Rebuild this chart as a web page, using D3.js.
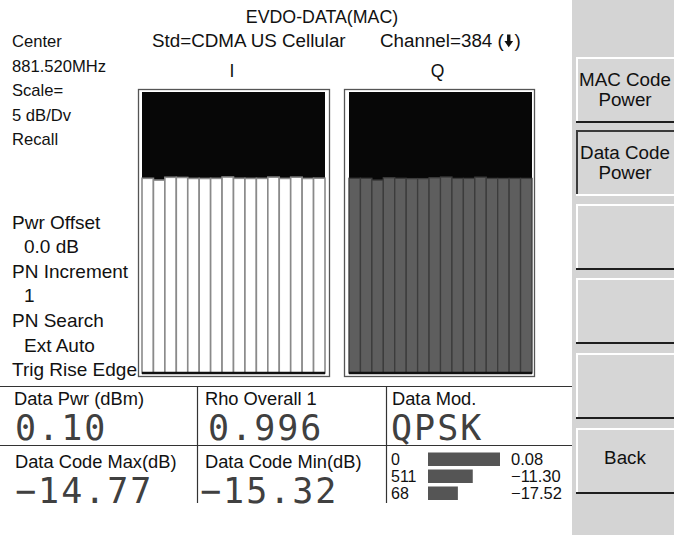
<!DOCTYPE html>
<html><head><meta charset="utf-8">
<script src="https://cdn.jsdelivr.net/npm/d3@7"></script>
<style>html,body{margin:0;padding:0;background:#fff;} svg{display:block;}</style>
</head><body>
<script>
// Walsh code powers (dB) for the 16 data codes on each branch
const codeIndex = d3.range(16);
const iPower = [-15.00,-15.32,-14.82,-14.85,-15.02,-15.03,-15.01,-14.77,-15.00,-15.02,-15.01,-14.79,-15.02,-14.80,-15.03,-14.98];
const qPower = [-15.00,-15.00,-15.32,-14.90,-15.00,-15.05,-15.05,-14.90,-14.77,-15.02,-15.02,-14.80,-15.02,-15.03,-15.02,-15.02];
const dbPerDiv = 5;
const divisions = 10;

// Instrument settings text
const titleText = "EVDO-DATA(MAC)";
const stdText = "Std=CDMA US Cellular";
const channelText = "Channel=384 (";
const branchNames = ["I", "Q"];
const settingsTop = ["Center", "881.520MHz", "Scale=", "5 dB/Dv", "Recall"];
const settingsBottom = ["Pwr Offset", " 0.0 dB", "PN Increment", " 1", "PN Search", " Ext Auto", "Trig Rise Edge"];

// Readouts
const dataPwr = 0.10;
const rhoOverall = 0.996;
const dataMod = "QPSK";
const topCodeIds = ["0", "511", "68"];
const topCodePower = [0.08, -11.30, -17.52];

// Soft-key menu
const menuLabels = [["MAC Code", "Power"], ["Data Code", "Power"], [], [], [], ["Back"]];
const menuPressed = 1;

const W = 674, H = 535;
const sans = "'Liberation Sans', Arial, Helvetica, sans-serif";
const mono = "'DejaVu Sans Mono', monospace";
const fmt = v => v.toFixed(2).replace("-", "\u2212");

const svg = d3.select("body").append("svg").attr("width", W).attr("height", H);
svg.append("rect").attr("width", W).attr("height", H).attr("fill", "#fff");

// ---- header ----
svg.append("text").attr("x", 322).attr("y", 23).attr("text-anchor", "middle")
  .attr("font-family", sans).attr("font-size", 17.8).attr("fill", "#111").text(titleText);
svg.append("text").attr("x", 152).attr("y", 47)
  .attr("font-family", sans).attr("font-size", 18.8).attr("fill", "#111").text(stdText);
const ch = svg.append("text").attr("x", 380).attr("y", 47)
  .attr("font-family", sans).attr("font-size", 18.8).attr("fill", "#111").text(channelText);
const chLen = ch.node().getComputedTextLength();
const ax = 380 + chLen + 5;
svg.append("path")
  .attr("d", `M${ax-1.7},34.5 h3.4 v6.5 h2.7 l-4.4,6.3 l-4.4,-6.3 h2.7 z`)
  .attr("fill", "#111");
svg.append("text").attr("x", ax + 5.8).attr("y", 47)
  .attr("font-family", sans).attr("font-size", 18.8).attr("fill", "#111").text(")");

// ---- left settings column ----
svg.append("g").selectAll("text").data(settingsTop).join("text")
  .attr("x", 12).attr("y", (d, i) => 47 + i * 24.5)
  .attr("font-family", sans).attr("font-size", 16.6).attr("fill", "#111")
  .text(d => d);
svg.append("g").selectAll("text").data(settingsBottom).join("text")
  .attr("x", d => d.startsWith(" ") ? 24 : 12).attr("y", (d, i) => 228.5 + i * 24.6)
  .attr("font-family", sans).attr("font-size", 19).attr("fill", "#111")
  .text(d => d.trim());

// ---- code domain power panels ----
const yDb = d3.scaleLinear().domain([-dbPerDiv * divisions, 0]).range([374.3, 94.3]);
const panels = [
  { name: branchNames[0], values: iPower, outer: [138.5, 89.5, 329.5, 376.5], inner: [142, 325], fill: "#ffffff", sep: "#8a8a8a", sepW: 1.6 },
  { name: branchNames[1], values: qPower, outer: [344.5, 89.5, 534.5, 376.5], inner: [349, 532], fill: "#5e5e5e", sep: "#3c3c3c", sepW: 1.3 }
];
const plotTop = 92, plotBottom = 373;
panels.forEach(p => {
  const g = svg.append("g");
  const [ox0, oy0, ox1, oy1] = p.outer;
  g.append("rect").attr("x", ox0).attr("y", oy0).attr("width", ox1 - ox0).attr("height", oy1 - oy0)
    .attr("fill", "#fff").attr("stroke", "#555").attr("stroke-width", 1.3);
  g.append("rect").attr("x", p.inner[0]).attr("y", plotTop)
    .attr("width", p.inner[1] - p.inner[0]).attr("height", plotBottom - plotTop).attr("fill", "#070707");
  const x = d3.scaleBand().domain(codeIndex).range(p.inner).paddingInner(0).paddingOuter(0);
  g.selectAll("rect.bar").data(p.values).join("rect").attr("class", "bar")
    .attr("x", (d, i) => x(i)).attr("width", x.bandwidth())
    .attr("y", d => yDb(d)).attr("height", d => plotBottom - yDb(d))
    .attr("fill", p.fill).attr("stroke", p.sep).attr("stroke-width", p.sepW);
  g.append("line").attr("x1", p.inner[0]).attr("x2", p.inner[1])
    .attr("y1", plotBottom).attr("y2", plotBottom).attr("stroke", "#111").attr("stroke-width", 2.5);
  g.append("text").attr("x", (ox0 + ox1) / 2 - 2).attr("y", 77).attr("text-anchor", "middle")
    .attr("font-family", sans).attr("font-size", 17.5).attr("fill", "#111").text(p.name);
});

// ---- readout grid ----
const grid = svg.append("g").attr("stroke", "#333").attr("stroke-width", 1.2);
grid.append("line").attr("x1", 0).attr("x2", 572).attr("y1", 386.5).attr("y2", 386.5);
grid.append("line").attr("x1", 0).attr("x2", 572).attr("y1", 445.5).attr("y2", 445.5);
grid.append("line").attr("x1", 197.5).attr("x2", 197.5).attr("y1", 386.5).attr("y2", 503);
grid.append("line").attr("x1", 386.5).attr("x2", 386.5).attr("y1", 386.5).attr("y2", 503);

const allCodes = iPower.concat(qPower);
const readouts = [
  { label: "Data Pwr (dBm)", value: dataPwr.toFixed(2), x: 14, vx: 15, y: 405 },
  { label: "Rho Overall 1", value: rhoOverall.toFixed(3), x: 205, vx: 208, y: 405 },
  { label: "Data Mod.", value: dataMod, x: 392, vx: 391, y: 405 },
  { label: "Data Code Max(dB)", value: fmt(d3.max(allCodes)), x: 15, vx: 15, y: 468 },
  { label: "Data Code Min(dB)", value: fmt(d3.min(allCodes)), x: 205, vx: 200, y: 468 }
];
readouts.forEach(r => {
  svg.append("text").attr("x", r.x).attr("y", r.y)
    .attr("font-family", sans).attr("font-size", 18.3).attr("fill", "#111").text(r.label);
  svg.append("text").attr("x", r.vx).attr("y", r.y + 35)
    .attr("font-family", mono).attr("font-size", 35).attr("letter-spacing", 2)
    .attr("fill", "#404040").text(r.value);
});

// ---- strongest codes ----
const xTop = d3.scaleLinear().domain([-30, 0.08]).range([428, 500]);
const rowY = [465, 482, 499];
const topList = svg.append("g");
topList.selectAll("text.id").data(topCodeIds).join("text").attr("class", "id")
  .attr("x", 391).attr("y", (d, i) => rowY[i])
  .attr("font-family", sans).attr("font-size", 16).attr("fill", "#111").text(d => d);
topList.selectAll("rect").data(topCodePower).join("rect")
  .attr("x", 428).attr("y", (d, i) => rowY[i] - 12.5)
  .attr("width", d => xTop(d) - 428).attr("height", 13.5).attr("fill", "#555");
topList.selectAll("text.val").data(topCodePower).join("text").attr("class", "val")
  .attr("x", 511).attr("y", (d, i) => rowY[i])
  .attr("font-family", sans).attr("font-size", 16.5).attr("fill", "#111").text(d => fmt(d));

// ---- soft-key menu ----
svg.append("rect").attr("x", 572).attr("y", 0).attr("width", W - 572).attr("height", H).attr("fill", "#d4d4d4");
const btnTops = [57, 130, 204, 278, 353, 428];
const btnH = 66, bx = 576;
btnTops.forEach((t, i) => {
  const g = svg.append("g");
  const pressed = i === menuPressed;
  g.append("rect").attr("x", bx).attr("y", t).attr("width", W - bx + 4).attr("height", btnH).attr("fill", "#d6d6d6");
  const hi = pressed ? "#3a3a3a" : "#ffffff";
  const lo = pressed ? "#ffffff" : "#1e1e1e";
  g.append("line").attr("x1", bx).attr("x2", W).attr("y1", t + 1).attr("y2", t + 1).attr("stroke", hi).attr("stroke-width", 2);
  g.append("line").attr("x1", bx + 1).attr("x2", bx + 1).attr("y1", t).attr("y2", t + btnH).attr("stroke", hi).attr("stroke-width", 2);
  g.append("line").attr("x1", bx).attr("x2", W).attr("y1", t + btnH - 1).attr("y2", t + btnH - 1).attr("stroke", lo).attr("stroke-width", 2);
  const lines = menuLabels[i];
  const cy = t + btnH / 2 + (lines.length === 1 ? -3 : 0);
  lines.forEach((s, k) => {
    g.append("text").attr("x", 625).attr("y", cy + 6 + (k - (lines.length - 1) / 2) * 19.5)
      .attr("text-anchor", "middle").attr("font-family", sans).attr("font-size", 18.8).attr("fill", "#111").text(s);
  });
});
</script>
</body></html>
